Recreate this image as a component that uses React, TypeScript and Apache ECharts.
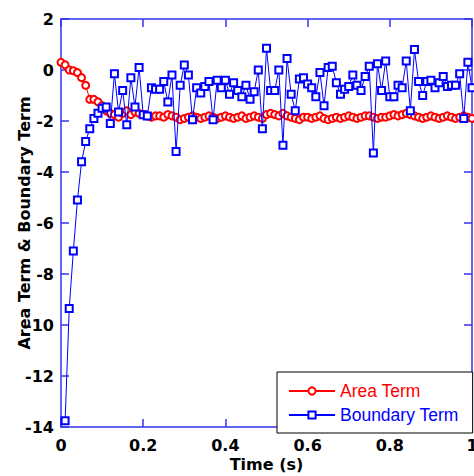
import React, { useEffect, useRef } from "react";
import * as echarts from "echarts";

const time: number[] = Array.from({ length: 101 }, (_, i) => Number((i * 0.01).toFixed(2)));

const areaTerm: number[] = [
  0.3, 0.2, 0.0, -0.03, -0.1, -0.3, -0.6, -1.15, -1.15, -1.25,
  -1.4, -1.6, -1.7, -1.75, -1.85, -1.7, -1.6, -1.75, -1.65, -1.7,
  -1.75, -1.8, -1.85, -1.8, -1.8, -1.85, -1.75, -1.8, -1.85, -1.95,
  -1.9, -1.85, -1.8, -1.85, -1.9, -1.85, -1.8, -1.85, -1.9, -1.85,
  -1.8, -1.85, -1.9, -1.85, -1.8, -1.9, -1.85, -1.8, -1.85, -1.9,
  -1.75, -1.7, -1.75, -1.8, -1.7, -1.8, -1.85, -1.9, -1.95, -1.85,
  -1.85, -1.9, -1.85, -1.8, -1.9, -1.95, -1.9, -1.85, -1.9, -1.85,
  -1.8, -1.85, -1.9, -1.85, -1.8, -1.8, -1.85, -1.9, -1.85, -1.85,
  -1.8, -1.75, -1.8, -1.75, -1.7, -1.75, -1.8, -1.85, -1.9, -1.85,
  -1.8, -1.85, -1.9, -1.85, -1.8, -1.85, -1.9, -1.85, -1.8, -1.85, -1.9,
];

const boundaryTerm: (number | null)[] = [
  null,
  -13.75, -9.35, -7.1, -5.1, -3.6, -2.8, -2.3, -1.9, -1.7, -1.5,
  -1.45, -2.1, -0.15, -1.65, -0.8, -2.15, -0.3, -1.45, 0.1, -1.75,
  -1.8, -0.7, -0.75, -0.75, -0.45, -1.25, -0.2, -3.2, -0.6, 0.2,
  -0.2, -1.95, -0.7, -0.9, -0.65, -0.45, -1.95, -0.4, -0.7, -0.4,
  -0.95, -0.5, -0.8, -1.05, -0.6, -1.15, -0.85, 0.0, -2.3, 0.85,
  -0.8, -0.8, 0.0, -2.95, 0.45, -0.95, -1.6, -0.35, -0.3, -0.55,
  -0.7, -1.05, -0.1, -1.4, 0.1, 0.15, -0.5, -0.95, -0.75, -0.65,
  -0.2, -0.6, -0.8, -0.25, 0.15, -3.25, 0.25, -0.8, 0.35, -1.05,
  -1.05, -0.6, -0.7, 0.35, -1.6, 0.8, -0.45, -1.0, -0.45, -0.4,
  -0.7, -0.5, -0.25, -0.65, -0.6, -0.6, -0.15, -1.9, 0.3, -0.7,
];

const seriesNames = ["Area Term", "Boundary Term"];
const seriesColors = ["#ff0000", "#0000ff"];
const xTitle = "Time (s)";
const yTitle = "Area Term & Boundary Term";

const AXIS_COLOR = "#3333ee";
const LABEL_FONT = "DejaVu Sans";

export default function App() {
  const ref = useRef<HTMLDivElement>(null);
  useEffect(() => {
    if (!ref.current) return;
    const chart = echarts.init(ref.current, undefined, { renderer: "svg" });
    const pair = (vals: (number | null)[]) =>
      time.map((t, i) => (vals[i] === null || vals[i] === undefined ? null : [t, vals[i]])).filter((p) => p !== null);

    const axisCommon = {
      axisLine: { show: true, onZero: false, lineStyle: { color: AXIS_COLOR, width: 1.5 } },
      axisTick: { show: true, inside: true, length: 8, lineStyle: { color: AXIS_COLOR, width: 1.5 } },
      splitLine: { show: false },
    };

    chart.setOption({
      animation: false,
      backgroundColor: "#ffffff",
      grid: { left: 61, top: 19, width: 411, height: 408, containLabel: false, outerBoundsMode: "none" },
      xAxis: [
        {
          type: "value",
          min: 0,
          max: 1,
          interval: 0.2,
          position: "bottom",
          ...axisCommon,
          axisLabel: { color: "#000", fontFamily: LABEL_FONT, fontWeight: "bold", fontSize: 16, margin: 10 },
          name: xTitle,
          nameLocation: "middle",
          nameGap: 29,
          nameMoveOverlap: false,
          nameTextStyle: { color: "#000", fontFamily: LABEL_FONT, fontWeight: "bold", fontSize: 16 },
        },
        {
          type: "value",
          min: 0,
          max: 1,
          interval: 0.2,
          position: "top",
          ...axisCommon,
          axisLabel: { show: false },
        },
      ],
      yAxis: [
        {
          type: "value",
          min: -14,
          max: 2,
          interval: 2,
          position: "left",
          ...axisCommon,
          axisLabel: { color: "#000", fontFamily: LABEL_FONT, fontWeight: "bold", fontSize: 16, margin: 7 },
          name: yTitle,
          nameLocation: "middle",
          nameGap: 29,
          nameRotate: 90,
          nameMoveOverlap: false,
          nameTextStyle: { color: "#000", fontFamily: LABEL_FONT, fontWeight: "bold", fontSize: 16 },
        },
        {
          type: "value",
          min: -14,
          max: 2,
          interval: 2,
          position: "right",
          ...axisCommon,
          axisLabel: { show: false },
        },
      ],
      legend: {
        left: 277,
        top: 372,
        orient: "vertical",
        backgroundColor: "#ffffff",
        borderColor: "#000000",
        borderWidth: 1,
        padding: [10, 14, 9, 11],
        itemWidth: 46,
        itemHeight: 9,
        itemGap: 6,
        data: seriesNames.map((n, i) => ({
          name: n,
          textStyle: { color: seriesColors[i], fontFamily: "Liberation Sans", fontSize: 17.5 },
        })),
      },
      series: [
        {
          name: seriesNames[0],
          type: "line",
          data: pair(areaTerm),
          symbol: "emptyCircle",
          symbolSize: 7,
          showAllSymbol: true,
          lineStyle: { color: seriesColors[0], width: 1 },
          itemStyle: { color: seriesColors[0], borderColor: seriesColors[0], borderWidth: 1 },
          z: 2,
        },
        {
          name: seriesNames[1],
          type: "line",
          data: pair(boundaryTerm),
          symbol: "emptyRect",
          symbolSize: 7,
          showAllSymbol: true,
          lineStyle: { color: seriesColors[1], width: 1 },
          itemStyle: { color: seriesColors[1], borderColor: seriesColors[1], borderWidth: 1 },
          z: 3,
        },
      ],
    });
    return () => chart.dispose();
  }, []);
  return (
    <div
      ref={ref}
      style={{ position: "fixed", left: 0, top: 0, width: 474, height: 476, background: "#fff" }}
    />
  );
}
